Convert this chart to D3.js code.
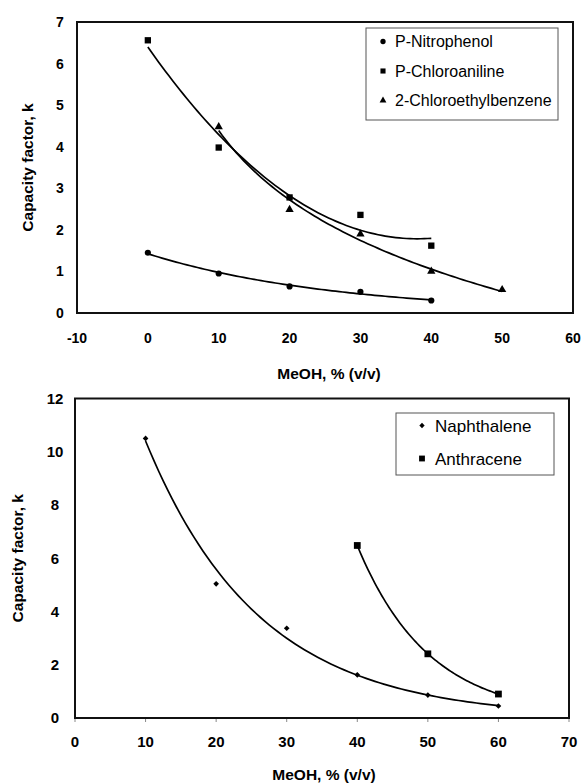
<!DOCTYPE html>
<html>
<head>
<meta charset="utf-8">
<script src="https://cdn.jsdelivr.net/npm/d3@7"></script>
<style>
  body { margin: 0; background: #fff; }
  svg { display: block; }
  text { font-family: "Liberation Sans", Arial, sans-serif; fill: #000; }
</style>
</head>
<body>
<script>
// ---- data ----
var topX = [0, 10, 20, 30, 40];
var nitrophenol = [1.45, 0.95, 0.64, 0.51, 0.30];
var chloroaniline = [6.56, 3.98, 2.78, 2.36, 1.62];
var chloroethylX = [10, 20, 30, 40, 50];
var chloroethylbenzene = [4.48, 2.49, 1.90, 1.00, 0.56];
var topXTicks = [-10, 0, 10, 20, 30, 40, 50, 60];
var topYTicks = [0, 1, 2, 3, 4, 5, 6, 7];

var naphX = [10, 20, 30, 40, 50, 60];
var naphthalene = [10.5, 5.04, 3.37, 1.62, 0.86, 0.45];
var anthX = [40, 50, 60];
var anthracene = [6.48, 2.41, 0.90];
var botXTicks = [0, 10, 20, 30, 40, 50, 60, 70];
var botYTicks = [0, 2, 4, 6, 8, 10, 12];

var xTitle = "MeOH, % (v/v)";
var yTitle = "Capacity factor, k";

var W = 581, H = 784;
var svg = d3.select("body").append("svg").attr("width", W).attr("height", H);

//===============================================
// trendlines (least squares, like the spreadsheet ones)
//===============================================
function linFit(xs, ys){
	var n = xs.length, mx = d3.mean(xs), my = d3.mean(ys);
	var sxy = 0, sxx = 0;
	for (var i = 0; i < n; i++){
		sxy += (xs[i] - mx) * (ys[i] - my);
		sxx += (xs[i] - mx) * (xs[i] - mx);
	}
	var b = sxy / sxx;
	return {a: my - b * mx, b: b};
}

function expFit(xs, ys){
	var f = linFit(xs, ys.map(Math.log));
	return function(x){ return Math.exp(f.a + f.b * x); };
}

function logFit(xs, ys){
	var f = linFit(xs.map(Math.log), ys);
	return function(x){ return f.a + f.b * Math.log(x); };
}

function polyFit2(xs, ys){
	// normal equations for y = a + b x + c x^2
	var s = [0, 0, 0, 0, 0], t = [0, 0, 0];
	for (var i = 0; i < xs.length; i++){
		for (var k = 0; k < 5; k++) s[k] += Math.pow(xs[i], k);
		for (var k = 0; k < 3; k++) t[k] += ys[i] * Math.pow(xs[i], k);
	}
	var m = [[s[0], s[1], s[2], t[0]], [s[1], s[2], s[3], t[1]], [s[2], s[3], s[4], t[2]]];
	for (var c = 0; c < 3; c++){
		for (var r = c + 1; r < 3; r++){
			var f = m[r][c] / m[c][c];
			for (var k = c; k < 4; k++) m[r][k] -= f * m[c][k];
		}
	}
	var coef = [0, 0, 0];
	for (var r = 2; r >= 0; r--){
		var v = m[r][3];
		for (var k = r + 1; k < 3; k++) v -= m[r][k] * coef[k];
		coef[r] = v / m[r][r];
	}
	return function(x){ return coef[0] + coef[1] * x + coef[2] * x * x; };
}

function sampleFn(fn, x0, x1){
	var pts = [];
	for (var i = 0; i <= 80; i++){
		var x = x0 + (x1 - x0) * i / 80;
		pts.push([x, fn(x)]);
	}
	return pts;
}

//===============================================
// panel drawing
//===============================================
function panel(opt){
	var x = d3.scaleLinear().domain(opt.xDomain).range([opt.left, opt.right]);
	var y = d3.scaleLinear().domain(opt.yDomain).range([opt.bottom, opt.top]);
	var g = svg.append("g");

	g.append("rect")
		.attr("x", opt.left).attr("y", opt.top)
		.attr("width", opt.right - opt.left).attr("height", opt.bottom - opt.top)
		.attr("fill", "none").attr("stroke", "#111").attr("stroke-width", 2);

	// y tick labels
	g.selectAll(".ylab").data(opt.yTicks).enter().append("text")
		.attr("x", opt.yLabelX).attr("y", function(d){ return y(d); })
		.attr("dy", "0.36em").attr("text-anchor", "middle")
		.attr("font-size", opt.tickSize).attr("font-weight", "bold")
		.text(function(d){ return d; });

	// x tick labels
	g.selectAll(".xlab").data(opt.xTicks).enter().append("text")
		.attr("x", function(d){ return x(d); }).attr("y", opt.xLabelY)
		.attr("dy", "0.36em").attr("text-anchor", "middle")
		.attr("font-size", opt.tickSize).attr("font-weight", "bold")
		.text(function(d){ return d; });

	if (opt.xTickMarks){
		g.selectAll(".xtick").data(opt.xTicks).enter().append("line")
			.attr("x1", function(d){ return x(d); }).attr("x2", function(d){ return x(d); })
			.attr("y1", opt.bottom + 1).attr("y2", opt.bottom + 4)
			.attr("stroke", "#888").attr("stroke-width", 1);
	}

	g.append("text")
		.attr("x", opt.xTitleX).attr("y", opt.xTitleY).attr("dy", "0.36em")
		.attr("text-anchor", "middle").attr("font-size", 15.5).attr("font-weight", "bold")
		.text(xTitle);

	g.append("text")
		.attr("transform", "translate(" + opt.yTitleX + "," + ((opt.top + opt.bottom) / 2) + ") rotate(-90)")
		.attr("dy", "0.36em").attr("text-anchor", "middle")
		.attr("font-size", 15.5).attr("font-weight", "bold")
		.text(yTitle);

	var line = d3.line().x(function(d){ return x(d[0]); }).y(function(d){ return y(d[1]); });

	opt.series.forEach(function(s){
		var fn = s.fit(s.xs, s.ys);
		g.append("path")
			.attr("d", line(sampleFn(fn, d3.min(s.xs), d3.max(s.xs))))
			.attr("fill", "none").attr("stroke", "#000").attr("stroke-width", 1.7);
	});

	opt.series.forEach(function(s){
		g.selectAll(null).data(s.xs).enter().append("path")
			.attr("transform", function(d, i){
				return "translate(" + x(d) + "," + y(s.ys[i]) + ") rotate(" + (s.rotate || 0) + ")";
			})
			.attr("d", d3.symbol().type(s.symbol).size(s.size))
			.attr("fill", "#000");
	});

	// legend
	var lg = g.append("g");
	lg.append("rect")
		.attr("x", opt.legend.x).attr("y", opt.legend.y)
		.attr("width", opt.legend.w).attr("height", opt.legend.h)
		.attr("fill", "#fff").attr("stroke", "#555").attr("stroke-width", 1);
	opt.series.forEach(function(s, i){
		var ry = opt.legend.y + opt.legend.first + i * opt.legend.step;
		lg.append("path")
			.attr("transform", "translate(" + opt.legend.markX + "," + ry + ") rotate(" + (s.rotate || 0) + ")")
			.attr("d", d3.symbol().type(s.symbol).size(s.legendSize))
			.attr("fill", "#000");
		lg.append("text")
			.attr("x", opt.legend.textX).attr("y", ry).attr("dy", "0.36em")
			.attr("font-size", opt.legend.fontSize)
			.text(s.name);
	});
}

panel({
	xDomain: [-10, 60], yDomain: [0, 7],
	left: 77, right: 573, top: 22, bottom: 313,
	xTicks: topXTicks, yTicks: topYTicks,
	tickSize: 14, yLabelX: 60, xLabelY: 338,
	xTitleX: 329, xTitleY: 373, yTitleX: 27,
	xTickMarks: false,
	series: [
		{name: "P-Nitrophenol", xs: topX, ys: nitrophenol, fit: expFit, symbol: d3.symbolCircle, size: 30, legendSize: 22},
		{name: "P-Chloroaniline", xs: topX, ys: chloroaniline, fit: polyFit2, symbol: d3.symbolSquare, size: 40, legendSize: 26},
		{name: "2-Chloroethylbenzene", xs: chloroethylX, ys: chloroethylbenzene, fit: logFit, symbol: d3.symbolTriangle, size: 30, legendSize: 20}
	],
	legend: {x: 366, y: 28, w: 192, h: 92, first: 13.5, step: 29.5, markX: 383, textX: 395, fontSize: 16}
});

panel({
	xDomain: [0, 70], yDomain: [0, 12],
	left: 75, right: 569, top: 398.5, bottom: 718,
	xTicks: botXTicks, yTicks: botYTicks,
	tickSize: 15, yLabelX: 55, xLabelY: 742,
	xTitleX: 324, xTitleY: 774, yTitleX: 17,
	xTickMarks: true,
	series: [
		{name: "Naphthalene", xs: naphX, ys: naphthalene, fit: expFit, symbol: d3.symbolSquare, rotate: 45, size: 16, legendSize: 14},
		{name: "Anthracene", xs: anthX, ys: anthracene, fit: expFit, symbol: d3.symbolSquare, size: 46, legendSize: 34}
	],
	legend: {x: 396, y: 413, w: 158, h: 62, first: 12.5, step: 33, markX: 422, textX: 435, fontSize: 17}
});
</script>
</body>
</html>
